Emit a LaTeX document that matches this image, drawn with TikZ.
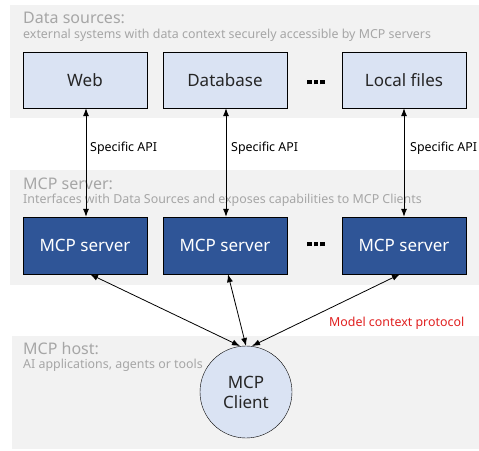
\documentclass[tikz,border=0pt]{standalone}
\usepackage{fontspec}
\setmainfont{Noto Sans}
\usetikzlibrary{arrows.meta}
\definecolor{panelgray}{HTML}{F2F2F2}
\definecolor{titlegray}{HTML}{A6A6A6}
\definecolor{srcblue}{HTML}{DAE3F3}
\definecolor{srvblue}{HTML}{2F5597}
\definecolor{protored}{HTML}{E02020}
\newcommand{\threedots}{\rule{4.5pt}{4.5pt}\hspace{2pt}\rule{4.5pt}{4.5pt}\hspace{2pt}\rule{4.5pt}{4.5pt}}
\tikzset{
  panel/.style={fill=panelgray, draw=none},
  paneltitle/.style={anchor=west, text=titlegray, font=\fontsize{16}{18}\selectfont, inner sep=0pt},
  panelsub/.style={anchor=west, text=titlegray, font=\fontsize{12.4}{14}\selectfont, inner sep=0pt},
  srcbox/.style={draw=black, fill=srcblue, minimum width=124pt, minimum height=56pt, inner sep=0pt,
    font=\fontsize{17}{20}\selectfont, text=black!85},
  srvbox/.style={draw=black, fill=srvblue, minimum width=124pt, minimum height=57pt, inner sep=0pt,
    font=\fontsize{17}{20}\selectfont, text=white},
  dots/.style={inner sep=0pt},
  link/.style={{Latex[length=8pt,width=6pt]}-{Latex[length=8pt,width=6pt]}, line width=0.8pt},
  apilabel/.style={anchor=west, font=\fontsize{12.4}{14}\selectfont, inner sep=0pt},
}
\begin{document}
\begin{tikzpicture}[x=1pt, y=-1pt]
  \useasboundingbox (0,0) rectangle (479,450);
  % background bands
  \fill[panel] (10,5) rectangle (479,118);
  \fill[panel] (10,170) rectangle (479,285);
  \fill[panel] (12,336) rectangle (479,449);

  % band titles
  \node[paneltitle] (t1) at (23,18) {Data sources:};
  \node[panelsub] (s1) at (23,35) {external systems with data context securely accessible by MCP servers};
  \node[paneltitle] (t2) at (23,184) {MCP server:};
  \node[panelsub] (s2) at (23,200) {Interfaces with Data Sources and exposes capabilities to MCP Clients};
  \node[paneltitle] (t3) at (23,349) {MCP host:};
  \node[panelsub] (s3) at (23,365) {AI applications, agents or tools};

  % data sources
  \node[srcbox] (web) at (85,80) {Web};
  \node[srcbox] (db) at (225,80) {Database};
  \node[srcbox] (files) at (404,80) {Local files};
  \node[dots] (dots1) at (316,82) {\threedots};

  % servers
  \node[srvbox] (srv1) at (85,245.5) {MCP server};
  \node[srvbox] (srv2) at (225,245.5) {MCP server};
  \node[srvbox] (srv3) at (404,245.5) {MCP server};
  \node[dots] (dots2) at (316,244) {\threedots};

  % client
  \node[circle, draw=black, fill=srcblue, minimum size=92pt, inner sep=0pt, align=center,
        font=\fontsize{17}{20}\selectfont, text=black!85] (client) at (246,392) {MCP\\Client};

  % specific API links
  \draw[link] (web.south -| 86,0) -- (srv1.north -| 86,0);
  \draw[link] (db.south -| 226,0) -- (srv2.north -| 226,0);
  \draw[link] (files.south -| 404,0) -- (srv3.north -| 404,0);
  \node[apilabel] (api1) at (90,148) {Specific API};
  \node[apilabel] (api2) at (231,148) {Specific API};
  \node[apilabel] (api3) at (410,148) {Specific API};

  % protocol links
  \coordinate (c1) at (240,346);
  \coordinate (c2) at (246,346);
  \coordinate (c3) at (252,346);
  \draw[link] (srv1.south -| 90,0) -- (c1);
  \draw[link] (srv2.south -| 228,0) -- (c2);
  \draw[link] (srv3.south -| 400,0) -- (c3);
  \node[apilabel, text=protored] (mcp) at (329,323) {Model context protocol};
\end{tikzpicture}
\end{document}
